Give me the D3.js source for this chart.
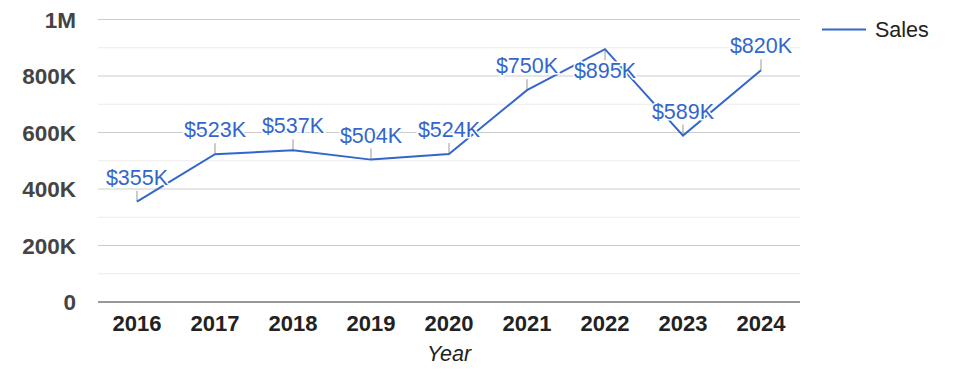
<!DOCTYPE html>
<html>
<head>
<meta charset="utf-8">
<script src="https://cdn.jsdelivr.net/npm/d3@7"></script>
<style>
  body { margin: 0; background: #fff; }
  svg { display: block; font-family: Arial, "Liberation Sans", sans-serif; }
</style>
</head>
<body>
<svg id="chart" width="975" height="378"></svg>
<script>
const years = ["2016", "2017", "2018", "2019", "2020", "2021", "2022", "2023", "2024"]
const sales = [355000, 523000, 537000, 504000, 524000, 750000, 895000, 589000, 820000]
const yTicks = [0, 200000, 400000, 600000, 800000, 1000000]
const yMinorTicks = [100000, 300000, 500000, 700000, 900000]
const seriesName = "Sales"
const xTitle = "Year"

const svg = d3.select("#chart")
const plotLeft = 98, plotRight = 800, plotTop = 19.5, plotBottom = 302
const blue = "#3366cc"

const x = d3.scaleBand().domain(years).range([plotLeft, plotRight])
const y = d3.scaleLinear().domain([0, 1000000]).range([plotBottom, plotTop])

const fmtTick = d => d === 0 ? "0" : d >= 1000000 ? (d / 1000000) + "M" : (d / 1000) + "K"
const fmtLabel = d => "$" + Math.round(d / 1000) + "K"

// gridlines
svg.append("g")
    .selectAll("line")
    .data(yMinorTicks)
    .join("line")
    .attr("x1", plotLeft).attr("x2", plotRight)
    .attr("y1", d => y(d)).attr("y2", d => y(d))
    .attr("stroke", "#ebebeb")

svg.append("g")
    .selectAll("line")
    .data(yTicks.filter(d => d > 0))
    .join("line")
    .attr("x1", plotLeft).attr("x2", plotRight)
    .attr("y1", d => y(d)).attr("y2", d => y(d))
    .attr("stroke", "#cccccc")

// y axis labels
svg.append("g")
    .selectAll("text")
    .data(yTicks)
    .join("text")
    .attr("x", 76)
    .attr("y", d => y(d))
    .attr("dy", "0.36em")
    .attr("text-anchor", "end")
    .attr("font-size", 22.5)
    .attr("font-weight", "bold")
    .attr("fill", "#444")
    .text(fmtTick)

// baseline
svg.append("line")
    .attr("x1", plotLeft).attr("x2", plotRight)
    .attr("y1", y(0)).attr("y2", y(0))
    .attr("stroke", "#333")

// x axis labels
svg.append("g")
    .selectAll("text")
    .data(years)
    .join("text")
    .attr("x", d => x(d) + x.bandwidth() / 2)
    .attr("y", 331)
    .attr("text-anchor", "middle")
    .attr("font-size", 22)
    .attr("font-weight", "bold")
    .attr("fill", "#222")
    .text(d => d)

svg.append("text")
    .attr("x", (plotLeft + plotRight) / 2)
    .attr("y", 361)
    .attr("text-anchor", "middle")
    .attr("font-size", 21.5)
    .attr("font-style", "italic")
    .attr("fill", "#222")
    .text(xTitle)

const points = years.map((yr, i) => ({ year: yr, value: sales[i] }))
const maxValue = d3.max(sales)
const cx = d => x(d.year) + x.bandwidth() / 2

// annotation stems
svg.append("g")
    .selectAll("line")
    .data(points)
    .join("line")
    .attr("x1", cx).attr("x2", cx)
    .attr("y1", d => y(d.value))
    .attr("y2", d => d.value === maxValue ? y(d.value) + 11 : y(d.value) - 11)
    .attr("stroke", "#999")

// line
const line = d3.line().x(cx).y(d => y(d.value))
svg.append("path")
    .datum(points)
    .attr("d", line)
    .attr("fill", "none")
    .attr("stroke", blue)
    .attr("stroke-width", 2)

// annotation labels
svg.append("g")
    .selectAll("text")
    .data(points)
    .join("text")
    .attr("x", cx)
    .attr("y", d => d.value === maxValue ? y(d.value) + 29 : y(d.value) - 17)
    .attr("text-anchor", "middle")
    .attr("font-size", 21.5)
    .attr("fill", blue)
    .attr("stroke", "#fff")
    .attr("stroke-width", 3)
    .attr("paint-order", "stroke")
    .text(d => fmtLabel(d.value))

// legend
svg.append("line")
    .attr("x1", 822).attr("x2", 866)
    .attr("y1", 29.5).attr("y2", 29.5)
    .attr("stroke", blue)
    .attr("stroke-width", 2)

svg.append("text")
    .attr("x", 875)
    .attr("y", 37)
    .attr("font-size", 21.5)
    .attr("fill", "#222")
    .text(seriesName)
</script>
</body>
</html>
